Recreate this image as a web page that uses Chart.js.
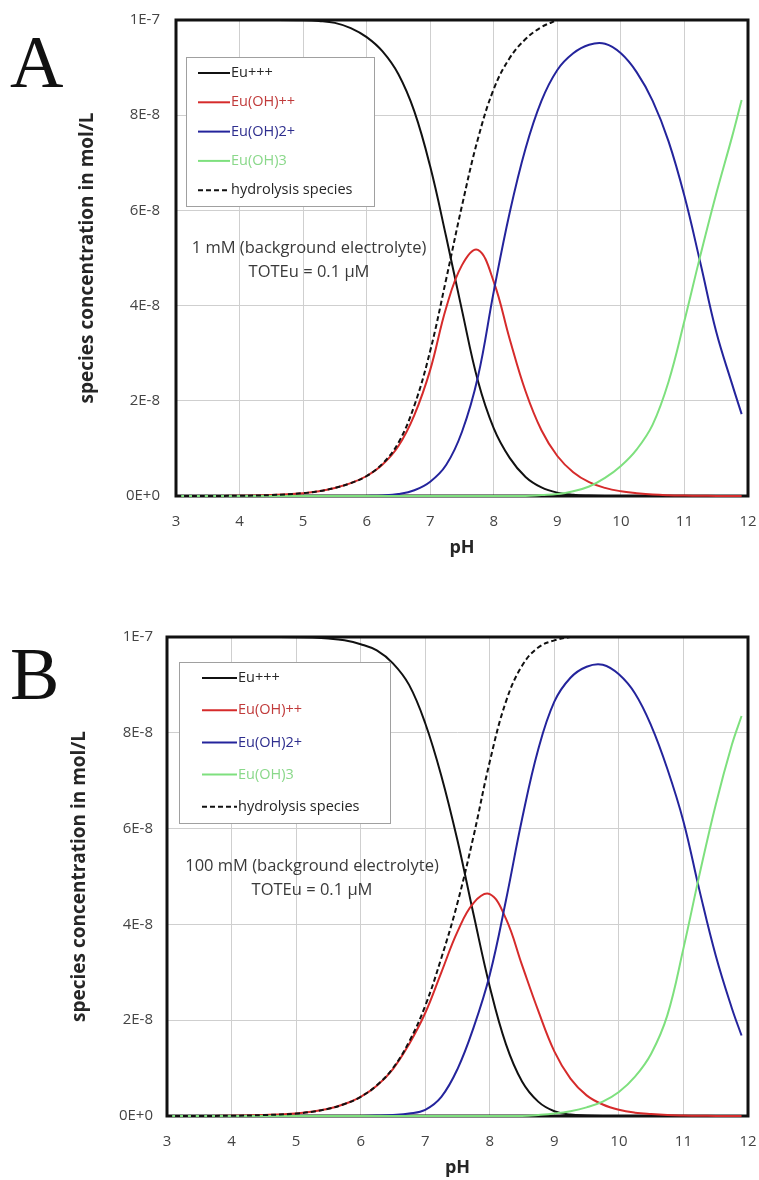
<!DOCTYPE html>
<html>
<head>
<meta charset="utf-8">
<script src="https://cdn.jsdelivr.net/npm/chart.js@4.4.1/dist/chart.umd.min.js"></script>
<style>
  body { margin: 0; background: #fff; width: 759px; height: 1180px; position: relative; overflow: hidden; }
  .panel { position: absolute; left: 0; }
  .letter { position: absolute; font-family: "Liberation Serif", "DejaVu Serif", serif; font-size: 74px; line-height: 1; color: #111; }
</style>
</head>
<body>
<div class="letter" style="left:10px;top:25px">A</div>
<div class="letter" style="left:10px;top:637px">B</div>
<canvas id="chartA" class="panel" style="top:0" width="759" height="560"></canvas>
<canvas id="chartB" class="panel" style="top:580px" width="759" height="600"></canvas>
<script>
// pH grid shared by both panels
const pH = [3, 3.5, 4, 4.5, 5, 5.25, 5.5, 5.75, 6, 6.25, 6.5, 6.75, 7, 7.25, 7.5, 7.75, 8, 8.25, 8.5, 8.75,
            9, 9.25, 9.5, 9.75, 10, 10.25, 10.5, 10.75, 11, 11.25, 11.5, 11.75, 11.9];

// concentrations in units of 1E-8 mol/L
// A: 1 mM background electrolyte
const euA    = [10, 10, 10, 10, 9.995, 9.98, 9.94, 9.83, 9.64, 9.34, 8.86, 8.08, 6.92, 5.45, 3.9, 2.42, 1.42, 0.8, 0.4, 0.18,
                0.07, 0.025, 0.008, 0, 0, 0, 0, 0, 0, 0, 0, 0, 0];
const euOHA  = [0, 0.002, 0.005, 0.02, 0.06, 0.1, 0.17, 0.27, 0.42, 0.66, 1.05, 1.7, 2.65, 3.95, 4.85, 5.17, 4.5, 3.3, 2.2, 1.38,
                0.84, 0.5, 0.29, 0.17, 0.1, 0.06, 0.03, 0.015, 0.008, 0.004, 0.002, 0.001, 0];
const euOH2A = [0, 0, 0, 0, 0, 0, 0, 0, 0.002, 0.01, 0.04, 0.12, 0.3, 0.65, 1.35, 2.5, 4.3, 5.95, 7.3, 8.3,
                8.95, 9.3, 9.48, 9.5, 9.3, 8.9, 8.3, 7.45, 6.3, 4.9, 3.45, 2.35, 1.72];
const euOH3A = [0, 0, 0, 0, 0, 0, 0, 0, 0, 0, 0, 0, 0, 0, 0, 0, 0, 0, 0, 0.02,
                0.04, 0.1, 0.2, 0.38, 0.63, 0.98, 1.5, 2.4, 3.68, 5.05, 6.35, 7.55, 8.32];
const hydroA = [0, 0.002, 0.005, 0.02, 0.06, 0.1, 0.17, 0.27, 0.42, 0.68, 1.12, 1.9, 3.05, 4.55, 6.1, 7.5, 8.55, 9.2, 9.6, 9.85,
                10, null, null, null, null, null, null, null, null, null, null, null, null];

// B: 100 mM background electrolyte
const euB    = [10, 10, 10, 10, 9.997, 9.99, 9.97, 9.93, 9.85, 9.72, 9.45, 9.0, 8.2, 7.1, 5.75, 4.2, 2.7, 1.5, 0.72, 0.3,
                0.1, 0.03, 0.01, 0, 0, 0, 0, 0, 0, 0, 0, 0, 0];
const euOHB  = [0, 0.002, 0.005, 0.02, 0.05, 0.09, 0.15, 0.25, 0.4, 0.63, 0.98, 1.5, 2.15, 3.0, 3.85, 4.45, 4.63, 4.12, 3.15, 2.2,
                1.35, 0.78, 0.43, 0.24, 0.13, 0.07, 0.04, 0.02, 0.01, 0.005, 0.002, 0.001, 0];
const euOH2B = [0, 0, 0, 0, 0, 0, 0, 0, 0.002, 0.008, 0.02, 0.05, 0.13, 0.4, 0.98, 1.85, 2.95, 4.5, 6.2, 7.65,
                8.65, 9.15, 9.38, 9.42, 9.22, 8.82, 8.15, 7.25, 6.15, 4.7, 3.35, 2.25, 1.68];
const euOH3B = [0, 0, 0, 0, 0, 0, 0, 0, 0, 0, 0, 0, 0, 0, 0, 0, 0, 0, 0, 0.02,
                0.05, 0.1, 0.18, 0.3, 0.5, 0.82, 1.3, 2.1, 3.5, 5.05, 6.5, 7.75, 8.35];
const hydroB = [0, 0.002, 0.005, 0.02, 0.05, 0.09, 0.15, 0.25, 0.4, 0.64, 1.0, 1.55, 2.3, 3.3, 4.45, 5.85, 7.4, 8.65, 9.4, 9.78,
                9.93, 10, null, null, null, null, null, null, null, null, null, null, null];

const seriesNames = ['Eu+++', 'Eu(OH)++', 'Eu(OH)2+', 'Eu(OH)3', 'hydrolysis species'];
const yTickLabels = ['0E+0', '2E-8', '4E-8', '6E-8', '8E-8', '1E-7'];

const lineColors   = ['#111111', '#d62b2b', '#24249c', '#7ee07e', '#111111'];
const legendColors = ['#262626', '#c03a3a', '#2e2e8e', '#8ad88a', '#262626'];

Chart.defaults.font.family = "'Open Sans', Lato, sans-serif";

const pts = arr => pH.map((x, i) => ({ x, y: arr[i] }));

function makeDatasets(series) {
  return series.map((arr, i) => ({
    label: seriesNames[i],
    data: pts(arr),
    borderColor: lineColors[i],
    legendColor: legendColors[i],
    borderWidth: 2,
    borderDash: i === 4 ? [5, 3] : [],
    pointRadius: 0,
    tension: 0.4,
    spanGaps: false,
    clip: false,
    order: 4 - i
  }));
}

// thick frame round the plot, under the curves
const frame = {
  id: 'frame',
  beforeDatasetsDraw(chart) {
    const { ctx, chartArea: a } = chart;
    ctx.save();
    ctx.strokeStyle = '#111';
    ctx.lineWidth = 3;
    ctx.strokeRect(a.left, a.top, a.right - a.left, a.bottom - a.top);
    ctx.restore();
  }
};

// boxed legend inside the plot + note text
const boxLegend = {
  id: 'boxLegend',
  afterDatasetsDraw(chart, args, o) {
    const { ctx, chartArea: a } = chart;
    const x = a.left + o.dx, y = a.top + o.dy;
    ctx.save();
    ctx.fillStyle = '#fff';
    ctx.fillRect(x, y, o.w, o.h);
    ctx.strokeStyle = '#a0a0a0';
    ctx.lineWidth = 1;
    ctx.strokeRect(x + 0.5, y + 0.5, o.w, o.h);
    ctx.font = o.font;
    ctx.textBaseline = 'middle';
    chart.data.datasets.forEach((ds, i) => {
      const ry = y + o.first + i * o.step;
      ctx.strokeStyle = ds.borderColor;
      ctx.lineWidth = 2;
      ctx.setLineDash(ds.borderDash);
      ctx.beginPath();
      ctx.moveTo(x + o.lx, ry);
      ctx.lineTo(x + o.lx + o.len, ry);
      ctx.stroke();
      ctx.setLineDash([]);
      ctx.fillStyle = ds.legendColor;
      ctx.fillText(ds.label, x + o.lx + o.len + 1, ry);
    });
    // note
    ctx.fillStyle = '#3a3a3a';
    ctx.font = o.noteFont;
    ctx.textAlign = 'center';
    o.note.forEach((t, i) => ctx.fillText(t, a.left + o.noteX, a.top + o.noteY + i * o.noteStep));
    ctx.restore();
  }
};

function makeChart(id, series, cfg) {
  return new Chart(document.getElementById(id), {
    type: 'line',
    data: { datasets: makeDatasets(series) },
    plugins: [frame, boxLegend],
    options: {
      responsive: false,
      animation: false,
      layout: { padding: { left: cfg.padLeft, right: 11, top: cfg.padTop, bottom: 0 } },
      plugins: {
        legend: { display: false },
        tooltip: { enabled: false },
        boxLegend: cfg.legend
      },
      scales: {
        x: {
          type: 'linear', min: 3, max: 12,
          grid: { color: '#cfcfcf', drawTicks: false },
          border: { display: false },
          ticks: { stepSize: 1, padding: 17, color: '#444', font: { size: 15 } },
          title: { display: true, text: 'pH', color: '#262626', font: { size: 18, weight: 'bold' }, padding: { top: 0, bottom: 1 } },
          afterFit: s => { s.height = 64; s.paddingLeft = 0; s.paddingRight = 0; }
        },
        y: {
          min: 0, max: 10,
          grid: { color: '#cfcfcf', drawTicks: false },
          border: { display: false },
          ticks: { stepSize: 2, padding: cfg.tickPad, color: '#444', font: { size: 15 },
                   callback: v => yTickLabels[v / 2] },
          title: { display: true, text: 'species concentration in mol/L', color: '#262626',
                   font: { size: 19, weight: 'bold' }, padding: { top: 2, bottom: 0 } },
          afterFit: s => { s.width = cfg.yWidth; s.paddingTop = 0; s.paddingBottom = 0; }
        }
      }
    }
  });
}

makeChart('chartA', [euA, euOHA, euOH2A, euOH3A, hydroA], {
  padLeft: 74, padTop: 20, yWidth: 102, tickPad: 16,
  legend: { dx: 10, dy: 37, w: 188, h: 149, first: 16, step: 29.3, lx: 12, len: 32,
            font: "14.5px 'Open Sans'", noteFont: "16.5px 'Open Sans'",
            note: ['1 mM (background electrolyte)', 'TOTEu = 0.1 µM'], noteX: 133, noteY: 228, noteStep: 24 }
});

makeChart('chartB', [euB, euOHB, euOH2B, euOH3B, hydroB], {
  padLeft: 66, padTop: 57, yWidth: 101, tickPad: 14,
  legend: { dx: 12, dy: 25, w: 211, h: 161, first: 16, step: 32.2, lx: 23, len: 35,
            font: "14.5px 'Open Sans'", noteFont: "16.5px 'Open Sans'",
            note: ['100 mM (background electrolyte)', 'TOTEu = 0.1 µM'], noteX: 145, noteY: 229, noteStep: 24 }
});
</script>
</body>
</html>
